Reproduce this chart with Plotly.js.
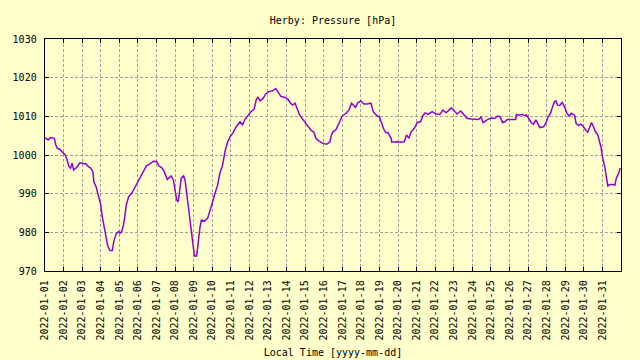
<!DOCTYPE html>
<html>
<head>
<meta charset="utf-8">
<script src="https://cdn.plot.ly/plotly-3.0.1.min.js"></script>
<style>html,body{margin:0;padding:0;background:#ffffcc;}#chart{width:640px;height:360px;}</style>
</head>
<body>
<div id="chart"></div>
<script>
const chartTitle = "Herby: Pressure [hPa]";
const xTitle = "Local Time [yyyy-mm-dd]";

const times = [
"2022-01-01 00:00","2022-01-01 01:00","2022-01-01 04:00","2022-01-01 07:00","2022-01-01 12:00","2022-01-01 14:00","2022-01-01 16:00","2022-01-01 19:00","2022-01-01 22:00",
"2022-01-02 02:00","2022-01-02 04:00","2022-01-02 07:00","2022-01-02 09:00","2022-01-02 11:00","2022-01-02 13:00","2022-01-02 17:00","2022-01-02 21:00",
"2022-01-03 01:00","2022-01-03 05:00","2022-01-03 08:00","2022-01-03 11:00","2022-01-03 14:00","2022-01-03 15:00","2022-01-03 18:00","2022-01-03 21:00",
"2022-01-04 00:00","2022-01-04 02:00","2022-01-04 05:00","2022-01-04 07:00","2022-01-04 09:00","2022-01-04 12:00","2022-01-04 15:00","2022-01-04 17:00","2022-01-04 20:00","2022-01-04 23:00",
"2022-01-05 01:00","2022-01-05 03:00","2022-01-05 05:00","2022-01-05 07:00","2022-01-05 09:00","2022-01-05 12:00","2022-01-05 16:00","2022-01-05 20:00",
"2022-01-06 00:00","2022-01-06 05:00","2022-01-06 08:00","2022-01-06 11:00","2022-01-06 13:00","2022-01-06 20:00",
"2022-01-07 00:00","2022-01-07 03:00","2022-01-07 07:00","2022-01-07 10:00","2022-01-07 14:00","2022-01-07 19:00","2022-01-07 22:00",
"2022-01-08 00:00","2022-01-08 02:00","2022-01-08 04:00","2022-01-08 06:00","2022-01-08 08:00","2022-01-08 11:00","2022-01-08 13:00","2022-01-08 15:00","2022-01-08 17:00","2022-01-08 19:00","2022-01-08 21:00","2022-01-08 23:00",
"2022-01-09 01:00","2022-01-09 04:00","2022-01-09 06:00","2022-01-09 08:00","2022-01-09 10:00","2022-01-09 14:00","2022-01-09 18:00","2022-01-09 21:00",
"2022-01-10 00:00","2022-01-10 03:00","2022-01-10 07:00","2022-01-10 10:00","2022-01-10 13:00","2022-01-10 15:00","2022-01-10 17:00","2022-01-10 20:00","2022-01-10 23:00",
"2022-01-11 03:00","2022-01-11 07:00","2022-01-11 12:00","2022-01-11 15:00","2022-01-11 18:00","2022-01-11 22:00",
"2022-01-12 02:00","2022-01-12 06:00","2022-01-12 09:00","2022-01-12 11:00","2022-01-12 14:00","2022-01-12 18:00","2022-01-12 21:00",
"2022-01-13 01:00","2022-01-13 06:00","2022-01-13 10:00","2022-01-13 13:00","2022-01-13 17:00","2022-01-13 22:00",
"2022-01-14 02:00","2022-01-14 05:00","2022-01-14 08:00","2022-01-14 11:00","2022-01-14 14:00","2022-01-14 17:00","2022-01-14 21:00",
"2022-01-15 00:00","2022-01-15 04:00","2022-01-15 08:00","2022-01-15 11:00","2022-01-15 14:00","2022-01-15 18:00","2022-01-15 23:00",
"2022-01-16 04:00","2022-01-16 08:00","2022-01-16 10:00","2022-01-16 12:00","2022-01-16 16:00","2022-01-16 20:00",
"2022-01-17 00:00","2022-01-17 05:00","2022-01-17 09:00","2022-01-17 12:00","2022-01-17 15:00","2022-01-17 17:00","2022-01-17 20:00",
"2022-01-18 00:00","2022-01-18 04:00","2022-01-18 08:00","2022-01-18 13:00","2022-01-18 16:00","2022-01-18 20:00",
"2022-01-19 00:00","2022-01-19 03:00","2022-01-19 05:00","2022-01-19 08:00","2022-01-19 11:00","2022-01-19 15:00","2022-01-19 16:00","2022-01-19 22:00",
"2022-01-20 03:00","2022-01-20 08:00","2022-01-20 11:00","2022-01-20 14:00","2022-01-20 17:00","2022-01-20 21:00",
"2022-01-21 01:00","2022-01-21 05:00","2022-01-21 08:00","2022-01-21 11:00","2022-01-21 15:00","2022-01-21 20:00",
"2022-01-22 01:00","2022-01-22 06:00","2022-01-22 10:00","2022-01-22 14:00","2022-01-22 21:00",
"2022-01-23 00:00","2022-01-23 04:00","2022-01-23 09:00","2022-01-23 14:00","2022-01-23 17:00","2022-01-23 22:00",
"2022-01-24 04:00","2022-01-24 08:00","2022-01-24 11:00","2022-01-24 14:00","2022-01-24 19:00","2022-01-24 23:00",
"2022-01-25 05:00","2022-01-25 09:00","2022-01-25 12:00","2022-01-25 15:00","2022-01-25 18:00","2022-01-25 21:00",
"2022-01-26 02:00","2022-01-26 08:00","2022-01-26 09:00","2022-01-26 13:00","2022-01-26 16:00","2022-01-26 19:00","2022-01-26 22:00",
"2022-01-27 01:00","2022-01-27 04:00","2022-01-27 07:00","2022-01-27 10:00","2022-01-27 13:00","2022-01-27 15:00","2022-01-27 20:00","2022-01-27 23:00",
"2022-01-28 01:00","2022-01-28 05:00","2022-01-28 07:00","2022-01-28 10:00","2022-01-28 12:00","2022-01-28 14:00","2022-01-28 17:00","2022-01-28 20:00","2022-01-28 23:00",
"2022-01-29 02:00","2022-01-29 05:00","2022-01-29 08:00","2022-01-29 12:00","2022-01-29 14:00","2022-01-29 17:00","2022-01-29 20:00","2022-01-29 23:00",
"2022-01-30 02:00","2022-01-30 05:00","2022-01-30 07:00","2022-01-30 10:00","2022-01-30 12:00","2022-01-30 15:00","2022-01-30 18:00","2022-01-30 20:00","2022-01-30 22:00",
"2022-01-31 00:00","2022-01-31 03:00","2022-01-31 05:00","2022-01-31 07:00","2022-01-31 10:00","2022-01-31 13:00","2022-01-31 16:00","2022-01-31 18:00","2022-01-31 21:00","2022-01-31 23:00"
];

const pressure = [
1004.5,1004.3,1003.9,1004.5,1004.3,1002.6,1001.7,1001.5,1000.9,
1000.0,999.1,997.0,996.6,997.9,996.1,996.8,998.0,
997.9,997.7,997.0,996.6,995.7,993.1,991.8,989.7,
987.1,984.0,980.6,978.0,976.5,975.3,975.3,977.8,979.6,980.2,
979.8,980.2,981.5,984.0,987.1,989.2,990.1,991.6,
993.1,994.6,996.1,997.2,997.4,998.4,
998.3,997.2,996.7,995.7,993.7,994.6,993.5,
990.5,988.4,987.9,991.0,994.0,994.6,993.5,990.1,986.6,983.2,979.8,976.3,
973.9,973.9,978.0,981.0,983.2,982.9,983.6,985.3,
987.5,989.7,992.2,995.4,997.0,999.2,1001.3,1003.4,1004.7,
1005.8,1007.3,1008.6,1007.8,1009.1,1010.3,
1011.2,1011.8,1014.4,1014.9,1014.0,1014.7,1015.8,
1016.4,1016.6,1017.2,1016.4,1015.1,1014.9,
1014.4,1013.4,1012.9,1013.4,1011.8,1010.3,1009.2,
1008.4,1007.2,1006.3,1006.0,1004.3,1003.6,1003.0,
1002.8,1003.4,1005.2,1006.0,1006.6,1008.2,
1010.1,1010.8,1011.8,1013.4,1012.7,1012.3,1013.5,
1014.0,1013.2,1013.2,1013.4,1011.2,1010.3,
1009.8,1008.2,1006.9,1005.8,1005.8,1004.3,1003.3,1003.4,
1003.3,1003.4,1005.2,1004.3,1006.0,1006.9,
1008.4,1008.6,1010.1,1010.9,1010.5,1011.2,
1010.6,1010.5,1011.6,1010.9,1012.2,
1011.6,1010.6,1011.4,1010.3,1009.5,1009.3,
1009.2,1009.2,1009.8,1008.4,1009.1,1009.5,
1009.5,1010.1,1009.8,1008.4,1008.6,1009.2,
1009.2,1009.2,1010.5,1010.3,1010.5,1010.2,1010.3,
1009.2,1008.4,1008.0,1009.1,1008.0,1007.1,1007.3,1008.2,
1009.5,1010.8,1012.1,1013.8,1014.0,1012.9,1012.8,1013.6,1012.5,
1010.9,1010.1,1010.8,1010.3,1008.2,1007.6,1008.0,1007.5,
1006.5,1005.9,1006.9,1008.4,1007.5,1006.0,1005.2,1003.9,1002.2,
999.6,997.0,994.4,992.0,992.4,992.4,992.2,994.0,995.3,996.6
];

const dayTicks = [
"2022-01-01","2022-01-02","2022-01-03","2022-01-04","2022-01-05","2022-01-06","2022-01-07","2022-01-08",
"2022-01-09","2022-01-10","2022-01-11","2022-01-12","2022-01-13","2022-01-14","2022-01-15","2022-01-16",
"2022-01-17","2022-01-18","2022-01-19","2022-01-20","2022-01-21","2022-01-22","2022-01-23","2022-01-24",
"2022-01-25","2022-01-26","2022-01-27","2022-01-28","2022-01-29","2022-01-30","2022-01-31"
];
const yTicks = [970, 980, 990, 1000, 1010, 1020, 1030];

const mono = "DejaVu Sans Mono, Liberation Mono, monospace";

const trace = {
  x: times, y: pressure, type: 'scatter', mode: 'lines',
  line: {color: '#9400d3', width: 1.5}, hoverinfo: 'skip'
};

const layout = {
  width: 640, height: 360,
  paper_bgcolor: '#ffffcc', plot_bgcolor: '#ffffcc',
  margin: {l: 45, r: 19, t: 39, b: 89, pad: 0},
  showlegend: false,
  font: {family: mono, size: 10, color: '#000'},
  title: {text: chartTitle, x: 0.5, xref: 'paper', xanchor: 'center',
          y: 1 - 20/360, yref: 'container', yanchor: 'middle',
          font: {family: mono, size: 10, color: '#000'}},
  xaxis: {
    type: 'date', range: ['2022-01-01 00:00', '2022-02-01 00:00'],
    tickvals: dayTicks, ticktext: dayTicks, tickangle: -90,
    ticks: 'inside', ticklen: 4, tickcolor: '#000', mirror: 'ticks',
    showline: true, linecolor: '#000', linewidth: 1.3,
    showgrid: true, gridcolor: '#a0a0a0', griddash: '3px,2px', gridwidth: 1,
    zeroline: false, ticklabelstandoff: 4,
    tickfont: {family: mono, size: 10, color: '#000'},
    title: {text: xTitle, standoff: 9, font: {family: mono, size: 10, color: '#000'}}
  },
  yaxis: {
    range: [970, 1030], tickvals: yTicks,
    ticks: 'inside', ticklen: 4, tickcolor: '#000', mirror: 'ticks',
    showline: true, linecolor: '#000', linewidth: 1.3,
    showgrid: true, gridcolor: '#a0a0a0', griddash: '3px,2px', gridwidth: 1,
    zeroline: false, ticklabelstandoff: 5,
    tickfont: {family: mono, size: 10, color: '#000'}
  }
};

Plotly.newPlot('chart', [trace], layout, {staticPlot: true, displayModeBar: false});
</script>
</body>
</html>
